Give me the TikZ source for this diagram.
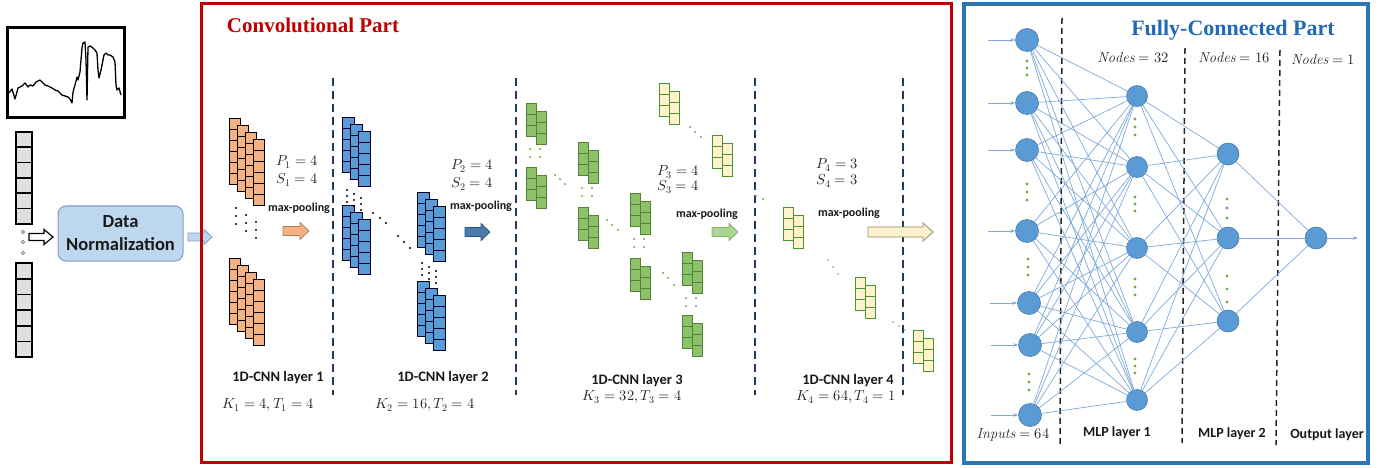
\documentclass[tikz,border=0pt]{standalone}
\usepackage{fontspec}
\usepackage{unicode-math}
\setmathfont{Latin Modern Math}
\newfontfamily\carl{Carlito}
\newfontfamily\tnr{Liberation Serif}
\usetikzlibrary{arrows.meta}
\definecolor{redf}{HTML}{C00000}
\definecolor{bluef}{HTML}{2E75B6}
\definecolor{navy}{HTML}{1F3864}
\definecolor{orng}{HTML}{F4B183}
\definecolor{bsq}{HTML}{5B9BD5}
\definecolor{gsq}{HTML}{8DC26B}
\definecolor{gdr}{HTML}{548235}
\definecolor{ysq}{HTML}{FFF2CC}
\definecolor{nodec}{HTML}{5B9BD5}
\definecolor{connc}{HTML}{7EA9DA}
\definecolor{dotg}{HTML}{70AD47}
\definecolor{mathc}{HTML}{262626}
\definecolor{dnfill}{HTML}{BDD7EE}
\definecolor{dndraw}{HTML}{7F9DC4}
\definecolor{titleblue}{HTML}{2169B7}
\newcommand\cstack[9]{%
  \foreach \c in {1,...,#4}{\foreach \r in {1,...,#5}{%
    \path[#1] ({#2+(\c-1)*#8},{#3+(\c-1)*#9+(\r-1)*#7}) rectangle ++(#6,#7);}}}
% block arrow: style, x1, x2, y, half shaft, half head, head length
\newcommand\barr[7]{%
  \path[#1] (#2,{#4-#5}) -- ({#3-#7},{#4-#5}) -- ({#3-#7},{#4-#6}) -- (#3,#4)
    -- ({#3-#7},{#4+#6}) -- ({#3-#7},{#4+#5}) -- (#2,{#4+#5}) -- cycle;}
\begin{document}
\begin{tikzpicture}[x=1pt,y=-1pt,
  osq/.style={fill=orng, draw=black, line width=0.9pt},
  bsqs/.style={fill=bsq, draw=black!85!blue, line width=0.9pt},
  gsqs/.style={fill=gsq, draw=gdr, line width=0.9pt},
  ysqs/.style={fill=ysq, draw=gdr!85!green, line width=0.9pt},
  vecsq/.style={fill=black!12, draw=black, line width=1.8pt},
  vdash/.style={navy, line width=2.5pt, dash pattern=on 8pt off 5pt},
  fcdash/.style={black!85, line width=1.5pt, dash pattern=on 6pt off 4pt},
  neuron/.style={circle, fill=nodec, draw=nodec!80!black, line width=0.6pt, minimum size=22pt, inner sep=0pt},
  conn/.style={connc, line width=0.7pt},
  mt/.style={text=mathc, font=\fontsize{14.5}{16}\selectfont, inner sep=0pt},
  mp/.style={text=black!90, font=\carl\bfseries\fontsize{12}{14}\selectfont, inner sep=0pt},
  lay/.style={text=black!90, font=\carl\bfseries\fontsize{14.5}{16}\selectfont, inner sep=0pt},
  mlp/.style={text=black!90, font=\carl\bfseries\fontsize{14}{16}\selectfont, inner sep=0pt},
  datanorm/.style={rounded corners=8pt, fill=dnfill, draw=dndraw, line width=1pt, minimum width=125pt, minimum height=55pt, align=center, inner sep=0pt, font=\carl\bfseries\fontsize{18.5}{23}\selectfont, text=black!90}
]
\useasboundingbox (0,0) rectangle (1385,468);

% ---------- input side ----------
\draw[line width=3pt] (7,28) rectangle (124,118);
\draw[line width=1.3pt, line join=round] plot coordinates {(9,93) (12,89) (15,99) (18,88) (22,86) (25,83) (28,87) (30,85) (33,86) (36,82) (40,80) (43,83) (45,85) (48,86) (52,88) (55,90) (58,91) (62,95) (65,96) (68,97) (70,99) (72,103) (73,92) (75,85) (77,77) (78,80) (80,72) (81,60) (82,48) (83,43) (85,42) (86,60) (87,100) (88,47) (90,46) (93,48) (95,50) (97,53) (98,70) (99,78) (101,70) (102,65) (104,55) (106,53) (108,55) (110,55) (113,57) (115,62) (116,85) (117,90) (119,88) (121,95)};
\foreach \k in {0,...,5} \draw[vecsq] (16,{132+\k*15.3}) rectangle ++(16,15.3);
\foreach \k in {0,...,5} \draw[vecsq] (16,{263+\k*15.7}) rectangle ++(16,15.7);
\foreach \y in {232,242,253} \draw[black!55, line width=0.8pt] (23,\y) circle (1.6);
\barr{fill=white, draw=black, line width=1.2pt}{29}{53}{237}{3.5}{7.5}{9}
\node[datanorm] (dn) at (120.5,233.5) {Data\\Normalization};
\barr{fill=dnfill, draw=dndraw, line width=0.8pt}{188}{212}{237}{4}{7.5}{8}

% ---------- convolutional part ----------
\draw[redf, line width=3.2pt] (201.5,3.5) rectangle (951.5,462.5);
\node[text=redf, font=\tnr\bfseries\fontsize{21}{24}\selectfont, inner sep=0pt] (ctitle) at (313,25) {Convolutional Part};

\foreach \x in {333,516,755,903} \draw[vdash] (\x,78) -- (\x,395);

% layer 1 (orange)
\cstack{osq}{229}{118}{4}{6}{11}{11}{8}{7}
\cstack{osq}{229}{258}{4}{6}{11}{11}{8}{7}
\foreach \i in {0,1,2} \foreach \j in {0,1,2} \fill ({236+10*\i},{208+7*\i+8*\j}) circle (1.2);
\node[mt] (p1) at (297,162) {$P_1 = 4$};
\node[mt] (s1) at (297,180) {$S_1 = 4$};
\node[mp] (mp1) at (299,208) {max-pooling};
\barr{fill=orng, draw=orng!70!black, line width=0.7pt}{283}{309}{231}{4.5}{8.5}{9}

% layer 2 (blue)
\cstack{bsqs}{342}{117}{3}{5}{12}{11}{8}{7}
\cstack{bsqs}{342}{205}{3}{5}{12}{11}{8}{7}
\cstack{bsqs}{417}{192}{3}{5}{12}{11}{8}{7}
\cstack{bsqs}{417}{281}{3}{5}{12}{11}{8}{7}
\foreach \i in {0,1,2} \foreach \j in {0,1,2} \fill ({347+7*\i},{190+4*\i+6*\j}) circle (1.2);
\foreach \i in {0,1,2} \foreach \j in {0,1,2} \fill ({422+7*\i},{263+4*\i+6*\j}) circle (1.2);
\foreach \p in {(373,213),(380,218),(386,223),(398,236),(404,242),(410,248)} \fill \p circle (1.2);
\node[mt] (p2) at (472,166) {$P_2 = 4$};
\node[mt] (s2) at (472,184) {$S_2 = 4$};
\node[mp] (mp2) at (481,206) {max-pooling};
\barr{fill=bsq!80!black, draw=bsq!55!black, line width=0.7pt}{465}{490}{232}{4.5}{8.5}{9}

% layer 3 (green)
\foreach \x/\y in {526/103, 526/167, 578/142, 578/207, 630/193, 630/258, 682/252, 682/315}
  \cstack{gsqs}{\x}{\y}{2}{3}{10}{11}{10}{8};
\foreach \x/\y in {659/83, 712/135}
  \cstack{ysqs}{\x}{\y}{2}{3}{10}{11}{10}{8};
\foreach \x/\y in {530/149, 582/188, 634/239, 686/298}
  \foreach \i in {0,1} \foreach \j in {0,1} \fill[dotg] ({\x+10*\i},{\y+8*\j}) circle (1.2);
\foreach \p in {(555,175),(560,179),(565,184),(607,220),(612,225),(618,230),(663,273),(668,278),(674,285),(690,127),(695,132),(701,137),(756,196),(763,199)}
  \fill[dotg] \p circle (1.2);
\node[mt] (p3) at (678,172) {$P_3 = 4$};
\node[mt] (s3) at (678,187) {$S_3 = 4$};
\node[mp] (mp3) at (707,214) {max-pooling};
\barr{fill=gsq!70!white, draw=gsq!90!black, line width=0.7pt}{712}{738}{232}{4.5}{8.5}{9}

% layer 4 (yellow)
\foreach \x/\y in {783/207, 855/277, 913/330}
  \cstack{ysqs}{\x}{\y}{2}{3}{10}{11}{10}{8};
\foreach \p in {(828,260),(833,267),(838,274),(893,322),(899,326),(905,330)}
  \fill[dotg!70] \p circle (1.2);
\node[mt] (p4) at (837,165) {$P_4 = 3$};
\node[mt] (s4) at (837,181) {$S_4 = 3$};
\node[mp] (mp4) at (849,213) {max-pooling};
\barr{fill=ysq, draw=ysq!55!black, line width=0.8pt}{868}{933}{232}{5}{9}{10}

% layer labels
\node[lay] (l1) at (278,378) {1D-CNN layer 1};
\node[mt] (k1) at (268,405) {$K_1 = 4, T_1 = 4$};
\node[lay] (l2) at (443,378) {1D-CNN layer 2};
\node[mt] (k2) at (425,405) {$K_2 = 16, T_2 = 4$};
\node[lay] (l3) at (637,381) {1D-CNN layer 3};
\node[mt] (k3) at (632,397) {$K_3 = 32, T_3 = 4$};
\node[lay] (l4) at (848,381) {1D-CNN layer 4};
\node[mt] (k4) at (846,397) {$K_4 = 64, T_4 = 1$};

% ---------- fully connected part ----------
\draw[bluef, line width=3.5pt] (964,4) rectangle (1368,463);
\node[text=titleblue, font=\tnr\bfseries\fontsize{22}{26}\selectfont, inner sep=0pt] (ftitle) at (1233,30) {Fully-Connected Part};

\draw[fcdash] (1062,18) -- (1060,445);
\draw[fcdash] (1185,48) -- (1182,443);
\draw[fcdash] (1280,50) -- (1276,445);

\foreach \n/\x/\y in {1/1027/40, 2/1027/103, 3/1027/150, 4/1027/231, 5/1029/303, 6/1030/345, 7/1030/415}{
  \node[neuron, minimum size=23pt] (i\n) at (\x,\y) {};
  \coordinate (ia\n) at ({\x-39},\y);
}
\foreach \n/\y in {1/96, 2/167, 3/248, 4/332, 5/400}
  \node[neuron, minimum size=21pt] (h\n) at (1137,\y) {};
\foreach \n/\y in {1/154, 2/238, 3/321}
  \node[neuron, minimum size=22pt] (m\n) at (1228,\y) {};
\node[neuron, minimum size=22pt] (o) at (1316,238) {};
\coordinate (oa) at (1358,238);

\foreach \a in {1,...,7}{\foreach \b in {1,...,5}{\draw[conn] (i\a) -- (h\b);}}
\foreach \a in {1,...,5}{\foreach \b in {1,...,3}{\draw[conn] (h\a) -- (m\b);}}
\foreach \a in {1,...,3}{\draw[conn] (m\a) -- (o);}
\foreach \n in {1,...,7}{\draw[conn, -{Stealth[length=5pt,width=3.5pt]}] (ia\n) -- (i\n);}
\draw[conn, -{Stealth[length=5pt,width=3.5pt]}] (o) -- (oa);

\foreach \x/\y in {1027/61, 1027/68, 1027/75, 1027/184, 1027/192, 1027/200, 1028/259, 1028/267, 1028/275, 1029/374, 1029/382, 1029/390,
  1135/119, 1135/127, 1135/135, 1135/197, 1135/204, 1135/211, 1135/279, 1135/287, 1135/295, 1135/359, 1135/366, 1135/373,
  1227/199, 1227/208, 1227/218, 1227/276, 1227/289, 1227/302}
  \fill[dotg] (\x,\y) circle (1.7);

\node[mt] (nd32) at (1133,58) {$\mathit{Nodes} = 32$};
\node[mt] (nd16) at (1234,58) {$\mathit{Nodes} = 16$};
\node[mt] (nd1) at (1323,60) {$\mathit{Nodes} = 1$};
\node[mt] (inp) at (1013,435) {$\mathit{Inputs} = 64$};
\node[mlp] (ml1) at (1117,433) {MLP layer 1};
\node[mlp] (ml2) at (1232,434) {MLP layer 2};
\node[mlp] (outl) at (1327,435) {Output layer};
\end{tikzpicture}
\end{document}
